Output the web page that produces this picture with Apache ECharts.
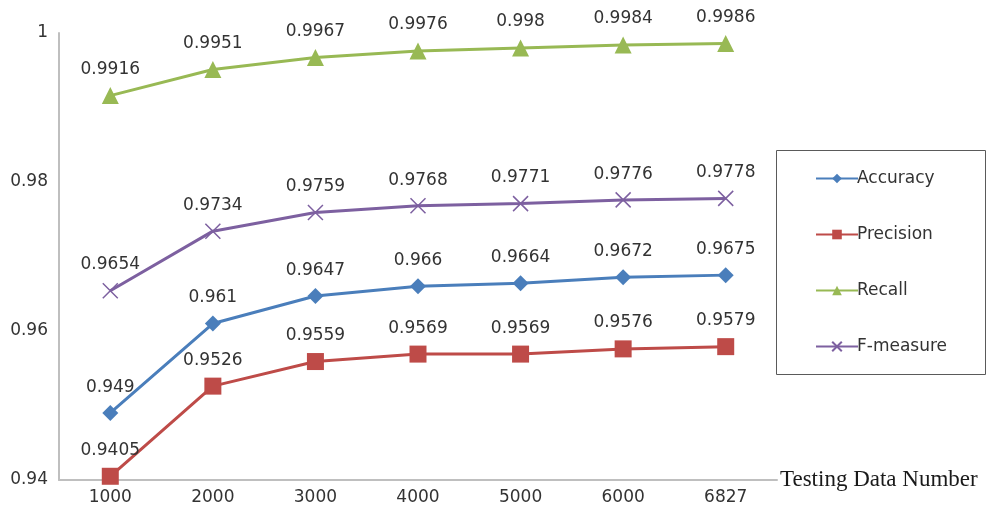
<!DOCTYPE html>
<html>
<head>
<meta charset="utf-8">
<script src="https://cdn.jsdelivr.net/npm/echarts@6/dist/echarts.min.js"></script>
<style>
  html, body { margin: 0; padding: 0; background: #fff; }
  #chart { width: 987px; height: 510px; }
</style>
</head>
<body>
<div id="chart"></div>
<script>
// Test-set sizes on the x axis
const categories = ['1000', '2000', '3000', '4000', '5000', '6000', '6827'];

// Metric values per test-set size
const accuracy  = [0.949, 0.961, 0.9647, 0.966, 0.9664, 0.9672, 0.9675];
const precision = [0.9405, 0.9526, 0.9559, 0.9569, 0.9569, 0.9576, 0.9579];
const recall    = [0.9916, 0.9951, 0.9967, 0.9976, 0.998, 0.9984, 0.9986];
const fMeasure  = [0.9654, 0.9734, 0.9759, 0.9768, 0.9771, 0.9776, 0.9778];

// Value-axis ticks
const yTicks = { min: 0.94, max: 1, interval: 0.02 };

const FONT = 'DejaVu Sans';
const TEXT = '#333333';

// X-shaped marker drawn as two stroked strokes
const crossPath = 'path://M0,0L10,10M10,0L0,10';

function makeSeries(name, data, color, symbol, size, extra) {
  return Object.assign({
    name: name,
    type: 'line',
    data: data,
    symbol: symbol,
    symbolSize: size,
    lineStyle: { color: color, width: 3 },
    itemStyle: { color: color },
    label: {
      show: true,
      position: 'top',
      distance: 9,
      fontFamily: FONT,
      fontSize: 17,
      color: TEXT,
      formatter: p => String(p.value)
    },
    z: 3
  }, extra || {});
}

const chart = echarts.init(document.getElementById('chart'), null, { renderer: 'canvas' });

chart.setOption({
  animation: false,
  backgroundColor: '#fff',
  grid: { left: 59, right: 210, top: 33, bottom: 30 },
  xAxis: {
    type: 'category',
    data: categories,
    boundaryGap: true,
    axisLine: { lineStyle: { color: '#bfbfbf', width: 2 } },
    axisTick: { show: false },
    axisLabel: { fontFamily: FONT, fontSize: 17, color: TEXT, margin: 9 },
    name: 'Testing Data Number',
    nameLocation: 'end',
    nameGap: 3,
    nameTextStyle: {
      fontFamily: 'Liberation Serif',
      fontSize: 23,
      color: '#1a1a1a',
      verticalAlign: 'middle',
      padding: [0, 0, 12, 0]
    }
  },
  yAxis: {
    type: 'value',
    min: yTicks.min,
    max: yTicks.max,
    interval: yTicks.interval,
    axisLine: { show: true, lineStyle: { color: '#bfbfbf', width: 2 } },
    axisTick: { show: false },
    splitLine: { show: false },
    axisLabel: { fontFamily: FONT, fontSize: 17, color: TEXT, margin: 11 }
  },
  legend: {
    orient: 'vertical',
    left: 810,
    top: 165,
    itemWidth: 42,
    itemHeight: 12,
    itemGap: 39,
    textStyle: { fontFamily: FONT, fontSize: 17, color: TEXT, padding: [0, 0, 0, -6] },
    data: ['Accuracy', 'Precision', 'Recall', 'F-measure']
  },
  graphic: [{
    type: 'rect',
    shape: { x: 776.5, y: 150.5, width: 209, height: 224 },
    style: { fill: 'none', stroke: '#5a5a5a', lineWidth: 1 },
    silent: true
  }],
  series: [
    makeSeries('Accuracy', accuracy, '#4A7EBB', 'diamond', 16),
    makeSeries('Precision', precision, '#BE4B48', 'rect', 17),
    makeSeries('Recall', recall, '#98B954', 'triangle', 17),
    makeSeries('F-measure', fMeasure, '#7D60A0', crossPath, 15, {
      itemStyle: { color: '#7D60A0', borderColor: '#7D60A0', borderWidth: 1.5 }
    })
  ]
});
</script>
</body>
</html>
